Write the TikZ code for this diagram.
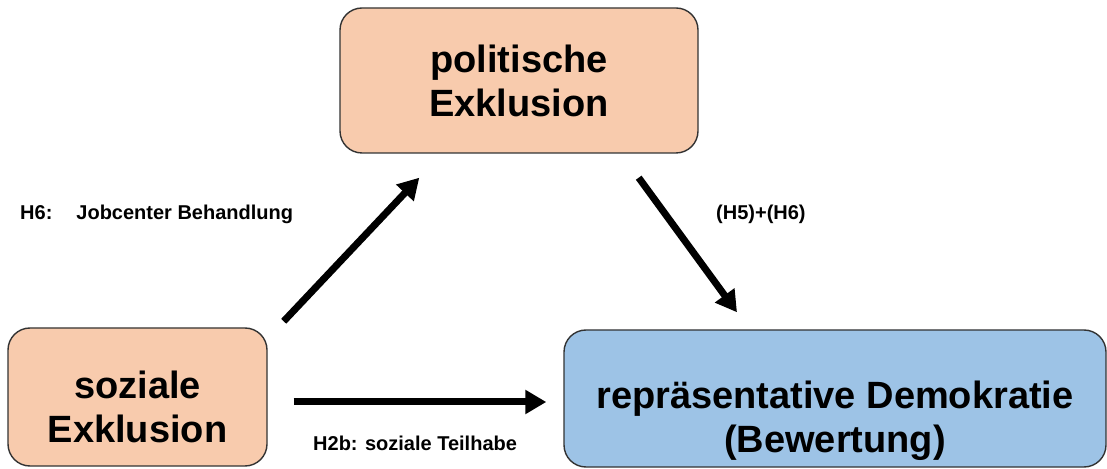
\documentclass[tikz,border=0pt]{standalone}
\usepackage{fontspec}
\setmainfont{Liberation Sans}
\usepackage{tikz}
\usetikzlibrary{arrows.meta}
\definecolor{boxorange}{HTML}{F8CBAD}
\definecolor{boxblue}{HTML}{9DC3E6}

\begin{document}
\begin{tikzpicture}[x=1pt,y=1pt,>={Triangle[length=21pt,width=23pt]},
	box/.style={draw=black!80,line width=1.4pt,rounded corners=22pt,align=center,inner sep=0pt,
		font=\fontsize{38}{44}\selectfont\bfseries},
	arr/.style={->,line width=7pt},
	hyp/.style={anchor=base west,inner sep=0pt,font=\fontsize{20}{24}\selectfont\bfseries}]
	\useasboundingbox (0,0) rectangle (1107,468);

	\node[box,fill=boxorange,minimum width=358pt,minimum height=145pt] (pol) at (519,387.5) {politische\\Exklusion};
	\node[box,fill=boxorange,minimum width=259pt,minimum height=138pt] (soz) at (137.5,71) {\rule{0pt}{47pt}soziale\\Exklusion};
	\node[box,fill=boxblue,minimum width=542pt,minimum height=137pt] (dem) at (835,69.5) {\rule{0pt}{72pt}repräsentative Demokratie\\(Bewertung)};

	\draw[arr] ([xshift=16pt,yshift=6pt]soz.north east) -- ([xshift=80pt,yshift=-24pt]pol.south west);
	\draw[arr] ([xshift=-60pt,yshift=-24pt]pol.south east) -- ([xshift=-98pt,yshift=17pt]dem.north);
	\draw[arr] ([xshift=26pt,yshift=-5pt]soz.east) coordinate (a) -- ([xshift=-17pt]a -| dem.west);

	\node[hyp] (h6) at (20,248.5) {H6:\hspace*{24pt}Jobcenter Behandlung};
	\node[hyp] (h56) at (716,248.5) {(H5)+(H6)};
	\node[hyp] (h2b) at (313,17.5) {H2b: soziale Teilhabe};
\end{tikzpicture}
\end{document}
